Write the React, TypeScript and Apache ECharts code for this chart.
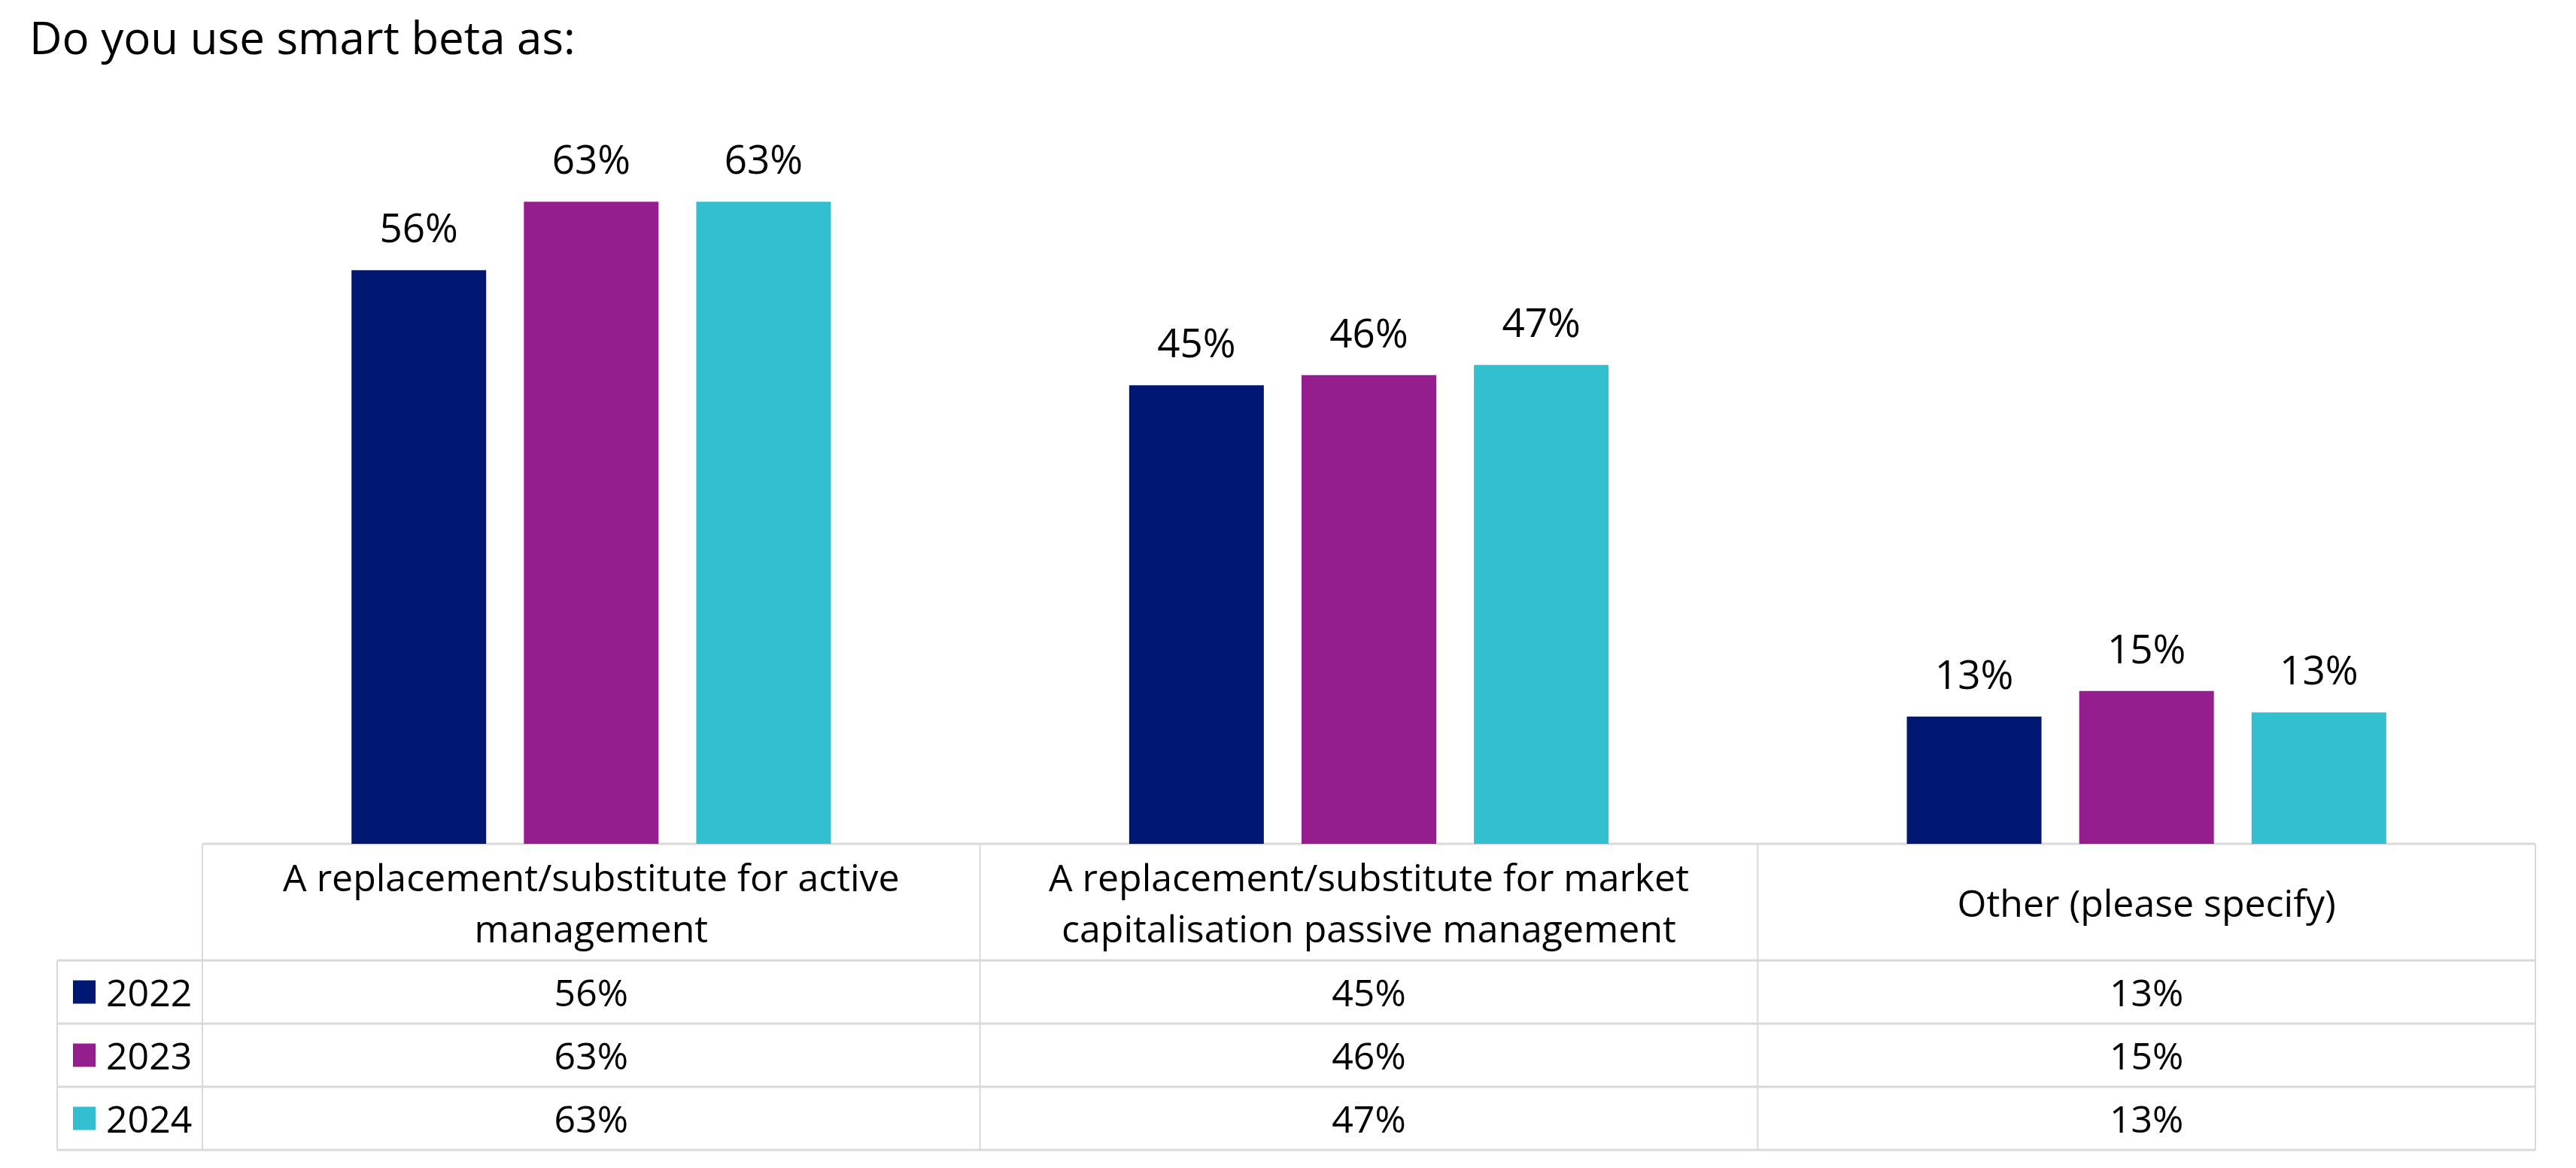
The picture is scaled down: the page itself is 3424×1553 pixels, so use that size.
import React, { useEffect, useRef } from "react";
import * as echarts from "echarts";

const titleText = "Do you use smart beta as:";
const categories = [
  "A replacement/substitute for active\nmanagement",
  "A replacement/substitute for market\ncapitalisation passive management",
  "Other (please specify)",
];
const years = ["2022", "2023", "2024"];
const values2022 = [56.3, 45, 12.5];
const values2023 = [63, 46, 15];
const values2024 = [63, 47, 12.9];
const colors = ["#001871", "#951E8E", "#32BFD0"];

const W = 3424;
const H = 1553;
const FONT = "'Open Sans', 'Noto Sans', sans-serif";

// layout
const gridLeft = 269;
const gridRight = 3370;
const baseY = 1122;
const headerBottom = 1277;
const rowH = 84;
const tableLeft = 76;
const yMax = 70;
const pxPerUnit = 13.55;
const gridTop = baseY - yMax * pxPerUnit;

const fmt = (v: number) => Math.round(v) + "%";

export default function App() {
  const ref = useRef<HTMLDivElement>(null);
  useEffect(() => {
    if (!ref.current) return;
    const chart = echarts.init(ref.current, undefined, { renderer: "svg" });
    const series = [values2022, values2023, values2024];
    const colW = (gridRight - gridLeft) / categories.length;
    const gray = "#D9D9D9";
    const graphics: any[] = [];
    graphics.push({
      type: "text",
      left: 39,
      top: 19,
      style: { text: titleText, font: `60px ${FONT}`, fill: "#000" },
    });
    // horizontal lines
    graphics.push({
      type: "line",
      shape: { x1: gridLeft, y1: baseY, x2: gridRight, y2: baseY },
      style: { stroke: gray, lineWidth: 3 },
    });
    for (let r = 0; r <= years.length; r++) {
      const y = headerBottom + r * rowH;
      graphics.push({
        type: "line",
        shape: { x1: tableLeft, y1: y, x2: gridRight, y2: y },
        style: { stroke: gray, lineWidth: 3 },
      });
    }
    const tableBottom = headerBottom + years.length * rowH;
    graphics.push({
      type: "line",
      shape: { x1: tableLeft, y1: headerBottom, x2: tableLeft, y2: tableBottom },
      style: { stroke: gray, lineWidth: 2 },
    });
    for (let c = 0; c <= categories.length; c++) {
      const x = gridLeft + c * colW;
      graphics.push({
        type: "line",
        shape: { x1: x, y1: baseY, x2: x, y2: tableBottom },
        style: { stroke: gray, lineWidth: 2 },
      });
    }
    // header texts
    categories.forEach((cat, i) => {
      graphics.push({
        type: "text",
        x: gridLeft + (i + 0.5) * colW,
        y: (baseY + headerBottom) / 2,
        style: {
          text: cat,
          font: `50px ${FONT}`,
          fill: "#000",
          align: "center",
          verticalAlign: "middle",
          lineHeight: 68,
        },
      });
    });
    // rows
    years.forEach((yr, r) => {
      const cy = headerBottom + (r + 0.5) * rowH;
      graphics.push({
        type: "rect",
        shape: { x: 97, y: cy - 15.5, width: 30, height: 31 },
        style: { fill: colors[r] },
      });
      graphics.push({
        type: "text",
        x: 141,
        y: cy,
        style: { text: yr, font: `50px ${FONT}`, fill: "#000", align: "left", verticalAlign: "middle" },
      });
      series[r].forEach((v, i) => {
        graphics.push({
          type: "text",
          x: gridLeft + (i + 0.5) * colW,
          y: cy,
          style: { text: fmt(v), font: `50px ${FONT}`, fill: "#000", align: "center", verticalAlign: "middle" },
        });
      });
    });

    chart.setOption({
      animation: false,
      backgroundColor: "#fff",
      grid: { left: gridLeft, right: W - gridRight, top: gridTop, bottom: H - baseY, containLabel: false },
      xAxis: {
        type: "category",
        data: categories,
        axisLine: { show: false },
        axisTick: { show: false },
        axisLabel: { show: false },
      },
      yAxis: { type: "value", min: 0, max: yMax, show: false, splitLine: { show: false } },
      series: years.map((yr, r) => ({
        name: yr,
        type: "bar",
        data: series[r],
        barWidth: 179,
        barGap: "28%",
        itemStyle: { color: colors[r] },
        label: {
          show: true,
          position: "top",
          distance: 31,
          formatter: (p: any) => fmt(p.value),
          fontSize: 53,
          fontFamily: FONT,
          color: "#000",
        },
      })),
      graphic: graphics,
    });
    return () => chart.dispose();
  }, []);
  return <div ref={ref} style={{ position: "fixed", left: 0, top: 0, width: W, height: H }} />;
}
